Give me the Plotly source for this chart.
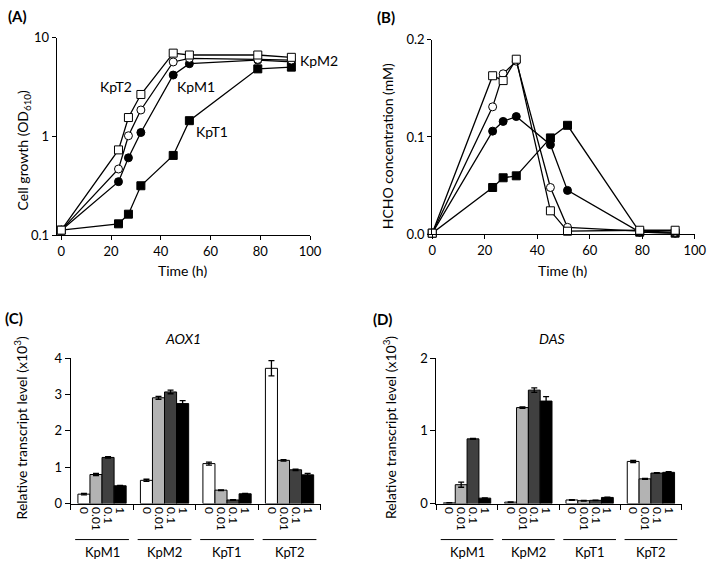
import plotly.graph_objects as go

# ---------------- data ----------------
time_h = [0, 23, 27, 32, 45, 51.5, 79, 92.5]
strains = ["KpM1", "KpM2", "KpT1", "KpT2"]

# (A) cell growth OD610
growth_KpM1 = [0.113, 0.35, 0.61, 1.10, 4.2, 5.47, 5.95, 5.7]
growth_KpM2 = [0.113, 0.47, 1.02, 1.86, 5.7, 6.2, 6.05, 5.95]
growth_KpT1 = [0.113, 0.131, 0.164, 0.318, 0.645, 1.45, 4.85, 5.05]
growth_KpT2 = [0.113, 0.734, 1.56, 2.67, 7.0, 6.7, 6.7, 6.35]

# (B) HCHO concentration (mM)
hcho_KpM1 = [0.001, 0.106, 0.116, 0.121, 0.092, 0.045, 0.002, 0.001]
hcho_KpM2 = [0.001, 0.131, 0.165, 0.178, 0.048, 0.007, 0.003, 0.002]
hcho_KpT1 = [0.001, 0.048, 0.058, 0.060, 0.099, 0.112, 0.002, 0.001]
hcho_KpT2 = [0.001, 0.163, 0.158, 0.180, 0.024, 0.003, 0.004, 0.004]

# (C) AOX1 relative transcript level (x10^3); per methanol concentration, per strain
conc_labels = ["0", "0.01", "0.1", "1"]
aox1 = {
    "0":    [0.26, 0.64, 1.10, 3.72],
    "0.01": [0.80, 2.91, 0.37, 1.19],
    "0.1":  [1.27, 3.07, 0.10, 0.93],
    "1":    [0.49, 2.75, 0.27, 0.79],
}
aox1_err = {
    "0":    [0.02, 0.03, 0.04, 0.21],
    "0.01": [0.03, 0.04, 0.01, 0.02],
    "0.1":  [0.02, 0.05, 0.01, 0.02],
    "1":    [0.01, 0.08, 0.01, 0.04],
}
# (D) DAS
das = {
    "0":    [0.01, 0.02, 0.05, 0.58],
    "0.01": [0.26, 1.32, 0.04, 0.34],
    "0.1":  [0.89, 1.56, 0.045, 0.42],
    "1":    [0.075, 1.41, 0.085, 0.43],
}
das_err = {
    "0":    [0.003, 0.003, 0.005, 0.015],
    "0.01": [0.035, 0.01, 0.004, 0.005],
    "0.1":  [0.005, 0.03, 0.003, 0.005],
    "1":    [0.003, 0.06, 0.004, 0.008],
}
bar_colors = ["#ffffff", "#b3b3b3", "#404040", "#000000"]

FONT = "Lato"
W, H = 718, 567

def px(x):
    return x / W

def py(y):
    return 1 - y / H

fig = go.Figure()

line_style = dict(color="black", width=1.3)
series_styles = [
    ("KpT1", "square", "black"),
    ("KpM1", "circle", "black"),
    ("KpM2", "circle", "white"),
    ("KpT2", "square", "white"),
]
growth = {"KpM1": growth_KpM1, "KpM2": growth_KpM2, "KpT1": growth_KpT1, "KpT2": growth_KpT2}
hcho = {"KpM1": hcho_KpM1, "KpM2": hcho_KpM2, "KpT1": hcho_KpT1, "KpT2": hcho_KpT2}

for name, sym, fill in series_styles:
    mk = dict(symbol=sym, size=8, color=fill, line=dict(color="black", width=1))
    fig.add_trace(go.Scatter(x=time_h, y=growth[name], mode="lines+markers", line=line_style,
                             marker=mk, xaxis="x", yaxis="y", showlegend=False, cliponaxis=False))
    fig.add_trace(go.Scatter(x=time_h, y=hcho[name], mode="lines+markers", line=line_style,
                             marker=mk, xaxis="x2", yaxis="y2", showlegend=False, cliponaxis=False))

# bars
bw = 0.193
offsets = [-1.5 * bw, -0.5 * bw, 0.5 * bw, 1.5 * bw]
tickvals_bar, ticktext_bar = [], []
for g in range(len(strains)):
    for k, c in enumerate(conc_labels):
        tickvals_bar.append(g + offsets[k])
        ticktext_bar.append(c)

for k, c in enumerate(conc_labels):
    xs = [g + offsets[k] for g in range(len(strains))]
    fig.add_trace(go.Bar(x=xs, y=aox1[c], width=bw, marker=dict(color=bar_colors[k], line=dict(color="black", width=1)),
                         error_y=dict(type="data", array=aox1_err[c], color="black", thickness=1.3, width=3),
                         xaxis="x3", yaxis="y3", showlegend=False))
    fig.add_trace(go.Bar(x=xs, y=das[c], width=bw, marker=dict(color=bar_colors[k], line=dict(color="black", width=1)),
                         error_y=dict(type="data", array=das_err[c], color="black", thickness=1.3, width=3),
                         xaxis="x4", yaxis="y4", showlegend=False))

# invisible traces to activate overlay tick axes
fig.add_trace(go.Scatter(x=[-0.5], y=[0], mode="markers", marker=dict(opacity=0), xaxis="x5", yaxis="y3",
                         showlegend=False, hoverinfo="skip"))
fig.add_trace(go.Scatter(x=[-0.5], y=[0], mode="markers", marker=dict(opacity=0), xaxis="x6", yaxis="y4",
                         showlegend=False, hoverinfo="skip"))

tickfont = dict(family=FONT, size=13, color="black")
common = dict(showline=True, linecolor="black", linewidth=1.2, showgrid=False, zeroline=False,
              ticks="outside", ticklen=4, tickcolor="black", tickwidth=1.2, tickfont=tickfont)
rotfont = dict(family=FONT, size=12, color="black")

dom_A_x = [px(54), px(313)]
dom_A_y = [py(234), py(30.7)]
dom_B_x = [px(438), px(706.6)]
dom_B_y = [py(232.7), py(32.7)]
dom_C_x = [px(68.3), px(324)]
dom_D_x = [px(442.3), px(693)]
dom_CD_y = [py(510), py(360.3)]

fig.update_layout(
    width=W, height=H, margin=dict(l=0, r=0, t=0, b=0),
    paper_bgcolor="white", plot_bgcolor="white",
    font=dict(family=FONT, color="black"),
    barmode="overlay",
    xaxis=dict(common, domain=dom_A_x, anchor="y", range=[-1.8, 100], tickvals=[0, 20, 40, 60, 80, 100]),
    yaxis=dict(common, domain=dom_A_y, anchor="x", type="log", range=[-1, 1],
               tickvals=[0.1, 1, 10], ticktext=["0.1", "1", "10"]),
    xaxis2=dict(common, domain=dom_B_x, anchor="y2", range=[0, 100], tickvals=[0, 20, 40, 60, 80, 100]),
    yaxis2=dict(common, domain=dom_B_y, anchor="x2", range=[0, 0.2],
                tickvals=[0, 0.1, 0.2], ticktext=["0.0", "0.1", "0.2"]),
    xaxis3=dict(common, domain=dom_C_x, anchor="y3", range=[-0.5, 3.5], tickvals=tickvals_bar,
                ticktext=ticktext_bar, ticks="", tickangle=90, tickfont=rotfont),
    yaxis3=dict(common, domain=dom_CD_y, anchor="x3", range=[0, 4], tickvals=[0, 1, 2, 3, 4], ticklen=5),
    xaxis4=dict(common, domain=dom_D_x, anchor="y4", range=[-0.5, 3.5], tickvals=tickvals_bar,
                ticktext=ticktext_bar, ticks="", tickangle=90, tickfont=rotfont),
    yaxis4=dict(common, domain=dom_CD_y, anchor="x4", range=[0, 2], tickvals=[0, 1, 2], ticklen=5),
    xaxis5=dict(overlaying="x3", anchor="y3", range=[-0.5, 3.5], tickvals=[-0.5, 0.5, 1.5, 2.5, 3.5],
                ticks="outside", ticklen=5, tickcolor="black", tickwidth=1.2, showticklabels=False,
                showline=False, showgrid=False, zeroline=False),
    xaxis6=dict(overlaying="x4", anchor="y4", range=[-0.5, 3.5], tickvals=[-0.5, 0.5, 1.5, 2.5, 3.5],
                ticks="outside", ticklen=5, tickcolor="black", tickwidth=1.2, showticklabels=False,
                showline=False, showgrid=False, zeroline=False),
)

ann = []
def A(text, x, y, xref="paper", yref="paper", size=13, angle=0, **kw):
    ann.append(dict(text=text, x=x, y=y, xref=xref, yref=yref, showarrow=False, textangle=angle,
                    xanchor="center", yanchor="middle",
                    font=dict(family=FONT, size=size, color="black"), **kw))

# panel letters
A("<b>(A)</b>", px(14), py(8.5), size=15)
A("<b>(B)</b>", px(390.5), py(9), size=15)
A("<b>(C)</b>", px(10), py(319), size=15)
A("<b>(D)</b>", px(387), py(320), size=15)

# axis titles
A("Cell growth (OD<sub>610</sub>)", px(20), py(146), angle=-90, size=14)
A("HCHO concentration (mM)", px(393), py(142), angle=-90, size=14)
A("Relative transcript level (x10<sup>3</sup>)", px(17), py(432), angle=-90, size=14)
A("Relative transcript level (x10<sup>3</sup>)", px(395), py(432), angle=-90, size=14)
A("Time (h)", px(183), py(270), size=14)
A("Time (h)", px(571), py(270), size=14)
A("<i>AOX1</i>", px(182.7), py(340), size=14)
A("<i>DAS</i>", px(560.7), py(340), size=14)

# curve labels (A)
A("KpT2", 22.1, 0.504, xref="x", yref="y", size=14)
A("KpM1", 54.2, 0.504, xref="x", yref="y", size=14)
A("KpT1", 60.7, 0.052, xref="x", yref="y", size=14)
A("KpM2", px(321.7), 0.77, xref="paper", yref="y", size=14)

# group labels and lines for bar panels
shapes = []
for xr, pct_x in (("x3", 3.64), ("x4", 3.58)):
    A("(%)", pct_x, py(526), xref=xr, yref="paper", size=12, angle=90)
    for g, s in enumerate(strains):
        shapes.append(dict(type="line", xref=xr, yref="paper", x0=g - 0.43, x1=g + 0.43,
                           y0=py(547), y1=py(547), line=dict(color="black", width=1)))
        A(s, g, py(559.5), xref=xr, yref="paper", size=13)

fig.update_layout(annotations=ann, shapes=shapes)
fig.write_html("out.html")
